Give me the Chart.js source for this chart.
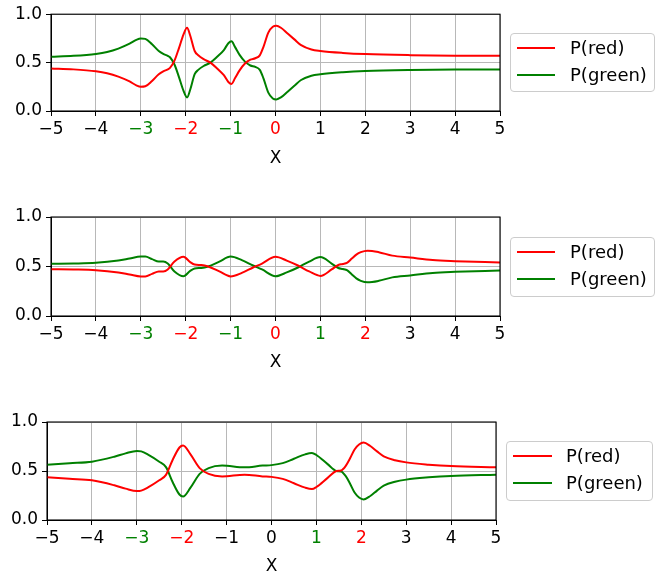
<!DOCTYPE html>
<html><head><meta charset="utf-8">
<script src="https://cdn.jsdelivr.net/npm/chart.js@4.4.0/dist/chart.umd.min.js"></script>
<style>
html,body{margin:0;padding:0;background:#fff;width:655px;height:573px;overflow:hidden;font-family:"DejaVu Sans";}
canvas{position:absolute;left:0;}
.legend{position:absolute;border:1px solid #cccccc;border-radius:4px;background:rgba(255,255,255,0.8);box-sizing:border-box;}
.item{position:absolute;font-size:18px;color:#000;white-space:nowrap;line-height:20px;font-family:"DejaVu Sans";}
.handle{position:absolute;height:2px;}
</style></head><body>
<canvas id="c1" width="520" height="180"></canvas>
<canvas id="c2" width="520" height="180"></canvas>
<canvas id="c3" width="520" height="180"></canvas>
<script>
// ---------- data ----------
const xTickValues = [-5, -4, -3, -2, -1, 0, 1, 2, 3, 4, 5];
const yTickValues = [0, 0.5, 1];
const seriesNames = ['P(red)', 'P(green)'];
const axisTitle = 'X';

// panel 1
const x1 = [-5, -4.5, -4, -3.75, -3.5, -3.25, -3.1, -3.0, -2.9, -2.75, -2.6, -2.5, -2.4, -2.35, -2.25, -2.15, -2.05, -1.97, -1.9, -1.8, -1.72, -1.6, -1.45, -1.3, -1.15, -1.05, -0.98, -0.9, -0.8, -0.68, -0.56, -0.45, -0.35, -0.27, -0.16, -0.06, 0.02, 0.12, 0.27, 0.42, 0.57, 0.8, 1.0, 1.5, 2, 3, 4, 5];
const red1 = [0.44, 0.43, 0.41, 0.39, 0.355, 0.305, 0.265, 0.25, 0.255, 0.31, 0.38, 0.41, 0.43, 0.445, 0.52, 0.65, 0.79, 0.86, 0.78, 0.62, 0.575, 0.535, 0.50, 0.44, 0.37, 0.30, 0.28, 0.34, 0.42, 0.49, 0.53, 0.545, 0.575, 0.66, 0.81, 0.87, 0.88, 0.86, 0.80, 0.74, 0.68, 0.635, 0.62, 0.60, 0.588, 0.577, 0.572, 0.57];
const green1 = [0.56, 0.57, 0.59, 0.61, 0.645, 0.695, 0.735, 0.75, 0.745, 0.69, 0.62, 0.59, 0.57, 0.555, 0.48, 0.35, 0.21, 0.14, 0.22, 0.38, 0.425, 0.465, 0.50, 0.56, 0.63, 0.70, 0.72, 0.66, 0.58, 0.51, 0.47, 0.455, 0.425, 0.34, 0.19, 0.13, 0.12, 0.14, 0.20, 0.26, 0.32, 0.365, 0.38, 0.40, 0.412, 0.423, 0.428, 0.43];
const redTicks1 = [-2, 0];
const greenTicks1 = [-3, -1];

// panel 2
const x2 = [-5, -4.5, -4, -3.5, -3.25, -3.0, -2.9, -2.75, -2.6, -2.5, -2.4, -2.25, -2.05, -1.9, -1.8, -1.65, -1.5, -1.25, -1.0, -0.75, -0.5, -0.3, 0, 0.25, 0.5, 0.75, 1.0, 1.25, 1.4, 1.5, 1.6, 1.7, 1.8, 1.9, 2.05, 2.3, 2.6, 3, 3.5, 4, 5];
const red2 = [0.473, 0.47, 0.463, 0.44, 0.42, 0.40, 0.40, 0.425, 0.45, 0.45, 0.47, 0.55, 0.598, 0.545, 0.52, 0.515, 0.50, 0.45, 0.40, 0.435, 0.49, 0.53, 0.598, 0.56, 0.51, 0.45, 0.405, 0.47, 0.515, 0.525, 0.54, 0.58, 0.62, 0.645, 0.66, 0.645, 0.61, 0.59, 0.565, 0.554, 0.54];
const green2 = [0.527, 0.53, 0.537, 0.56, 0.58, 0.60, 0.60, 0.575, 0.55, 0.55, 0.53, 0.45, 0.402, 0.455, 0.48, 0.485, 0.50, 0.55, 0.60, 0.565, 0.51, 0.47, 0.402, 0.44, 0.49, 0.55, 0.595, 0.53, 0.485, 0.475, 0.46, 0.42, 0.38, 0.355, 0.34, 0.355, 0.39, 0.41, 0.435, 0.446, 0.46];
const redTicks2 = [-2, 0, 2];
const greenTicks2 = [-3, -1, 1];

// panel 3
const x3 = [-5, -4.5, -4, -3.5, -3.25, -3.0, -2.9, -2.75, -2.5, -2.35, -2.2, -2.05, -1.97, -1.8, -1.6, -1.4, -1.1, -0.6, -0.2, 0, 0.25, 0.5, 0.75, 0.9, 1.0, 1.25, 1.45, 1.55, 1.65, 1.75, 1.85, 1.95, 2.05, 2.2, 2.35, 2.5, 2.75, 3, 3.5, 4, 5];
const red3 = [0.436, 0.42, 0.405, 0.354, 0.32, 0.295, 0.30, 0.333, 0.405, 0.46, 0.615, 0.74, 0.76, 0.667, 0.53, 0.47, 0.445, 0.463, 0.445, 0.44, 0.42, 0.375, 0.33, 0.316, 0.337, 0.43, 0.50, 0.505, 0.55, 0.63, 0.72, 0.77, 0.79, 0.755, 0.70, 0.65, 0.61, 0.588, 0.565, 0.55, 0.537];
const green3 = [0.564, 0.58, 0.595, 0.646, 0.68, 0.705, 0.70, 0.667, 0.595, 0.54, 0.385, 0.26, 0.24, 0.333, 0.47, 0.53, 0.555, 0.537, 0.555, 0.56, 0.58, 0.625, 0.67, 0.684, 0.663, 0.57, 0.50, 0.495, 0.45, 0.37, 0.28, 0.23, 0.21, 0.245, 0.30, 0.35, 0.39, 0.412, 0.435, 0.45, 0.463];
const redTicks3 = [-2, 2];
const greenTicks3 = [-3, 1];

// ---------- styling / layout ----------
const RED = '#ff0000', GREEN = '#008000';
const FONT = 'DejaVu Sans';
const TICK_SIZE = 17;
const GRID = '#b8b8b8';

const frame = {
  id: 'frame',
  afterDraw(chart) {
    const {ctx, chartArea: a} = chart;
    ctx.save();
    ctx.strokeStyle = '#000';
    ctx.lineWidth = 1.1;
    ctx.strokeRect(a.left, a.top, a.right - a.left, a.bottom - a.top);
    ctx.restore();
  }
};

function fmtX(v) { return v < 0 ? '\u2212' + Math.abs(v) : String(v); }

function makePanel(id, xs, red, green, redTicks, greenTicks, L) {
  const cv = document.getElementById(id);
  cv.style.top = L.canvasTop + 'px';
  cv.style.width = '520px'; cv.style.height = L.H + 'px';
  const lh = TICK_SIZE * 1.2;
  const xH = L.canvasTop + L.H - L.bottom;
  const padTop = L.top - L.canvasTop;
  const titlePad = L.canvasTop + L.H - L.titleCenter - lh / 2;
  const toPts = (arr) => xs.map((x, i) => ({x: x, y: arr[i]}));
  new Chart(cv, {
    type: 'line',
    data: {
      datasets: [
        {label: seriesNames[0], data: toPts(red), borderColor: RED, backgroundColor: RED, borderWidth: 2, pointRadius: 0, cubicInterpolationMode: 'monotone'},
        {label: seriesNames[1], data: toPts(green), borderColor: GREEN, backgroundColor: GREEN, borderWidth: 2, pointRadius: 0, cubicInterpolationMode: 'monotone'}
      ]
    },
    options: {
      responsive: false, animation: false, devicePixelRatio: 1,
      layout: {padding: {left: 0, right: 520 - L.right, top: padTop, bottom: 0}},
      plugins: {legend: {display: false}, tooltip: {enabled: false}},
      scales: {
        x: {
          type: 'linear', min: -5, max: 5,
          afterBuildTicks: s => { s.ticks = xTickValues.map(v => ({value: v})); },
          afterFit: s => { s.height = xH; },
          grid: {color: GRID, lineWidth: 1, drawTicks: true, tickLength: 5, tickColor: '#000', tickWidth: 1},
          border: {display: true, color: '#000', width: 1},
          ticks: {
            autoSkip: false, maxRotation: 0, padding: 3,
            font: {family: FONT, size: TICK_SIZE},
            color: c => redTicks.includes(c.tick.value) ? RED : (greenTicks.includes(c.tick.value) ? GREEN : '#000'),
            callback: v => fmtX(v)
          },
          title: {display: true, text: axisTitle, color: '#000', font: {family: FONT, size: TICK_SIZE}, padding: {top: 0, bottom: titlePad}}
        },
        y: {
          type: 'linear', min: 0, max: 1,
          afterBuildTicks: s => { s.ticks = yTickValues.map(v => ({value: v})); },
          afterFit: s => { s.width = L.left; },
          grid: {color: GRID, lineWidth: 1, drawTicks: true, tickLength: 5, tickColor: '#000', tickWidth: 1},
          border: {display: true, color: '#000', width: 1},
          ticks: {padding: 4, font: {family: FONT, size: TICK_SIZE}, color: '#000', callback: v => v.toFixed(1)}
        }
      }
    },
    plugins: [frame]
  });

  // legend (HTML, real text)
  const lg = document.createElement('div');
  lg.className = 'legend';
  lg.style.left = L.lgX + 'px'; lg.style.top = L.lgY + 'px';
  lg.style.width = L.lgW + 'px'; lg.style.height = L.lgH + 'px';
  document.body.appendChild(lg);
  const cols = [RED, GREEN];
  seriesNames.forEach((name, i) => {
    const cy = L.rows[i];
    const h = document.createElement('div');
    h.className = 'handle';
    h.style.left = L.hx0 + 'px'; h.style.width = (L.hx1 - L.hx0) + 'px';
    h.style.top = (cy - 1) + 'px'; h.style.background = cols[i];
    document.body.appendChild(h);
    const t = document.createElement('div');
    t.className = 'item';
    t.style.left = L.tx + 'px'; t.style.top = (cy - 10) + 'px';
    t.textContent = name;
    document.body.appendChild(t);
  });
}

makePanel('c1', x1, red1, green1, redTicks1, greenTicks1,
  {canvasTop: 0, H: 180, left: 51, right: 500, top: 14, bottom: 111, titleCenter: 159,
   lgX: 510, lgY: 33, lgW: 145, lgH: 59, rows: [48, 75], hx0: 517, hx1: 555, tx: 570});
makePanel('c2', x2, red2, green2, redTicks2, greenTicks2,
  {canvasTop: 200, H: 180, left: 51, right: 500, top: 217, bottom: 316, titleCenter: 363,
   lgX: 510, lgY: 237, lgW: 145, lgH: 60, rows: [252, 279], hx0: 517, hx1: 555, tx: 570});
makePanel('c3', x3, red3, green3, redTicks3, greenTicks3,
  {canvasTop: 400, H: 180, left: 47, right: 496, top: 422, bottom: 520, titleCenter: 567,
   lgX: 506, lgY: 441, lgW: 147, lgH: 60, rows: [456, 483], hx0: 513, hx1: 552, tx: 566});
</script>
</body></html>
